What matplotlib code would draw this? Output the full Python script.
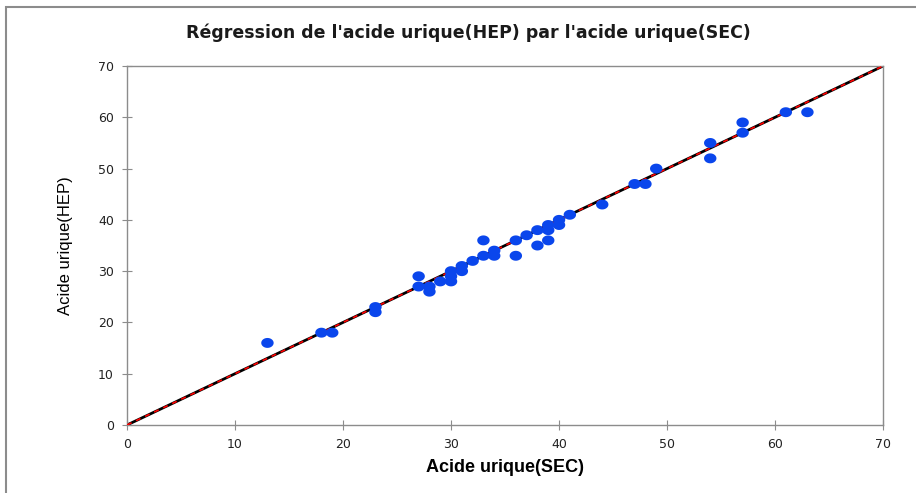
import matplotlib
matplotlib.use("Agg")
import matplotlib.pyplot as plt
import numpy as np
from matplotlib.patches import Rectangle
from matplotlib.path import Path

# valeurs
sec = [13, 18, 19, 23, 23, 27, 27, 28, 28, 29, 30, 30, 30, 31, 31, 32,
       33, 33, 34, 34, 36, 36, 37, 38, 38, 39, 39, 39, 40, 40, 41, 44,
       47, 48, 49, 54, 54, 57, 57, 61, 63]
hep = [16, 18, 18, 23, 22, 29, 27, 27, 26, 28, 30, 29, 28, 31, 30, 32,
       36, 33, 34, 33, 36, 33, 37, 38, 35, 39, 38, 36, 40, 39, 41, 43,
       47, 47, 50, 55, 52, 59, 57, 61, 61]
line_x = [0, 70]
line_y = [0, 70]
ticks = list(range(0, 71, 10))

# marqueur ovale (un peu plus large que haut)
t = np.linspace(0, 2 * np.pi, 40)
oval = Path(np.column_stack([np.cos(t), 0.8 * np.sin(t)]), closed=True)

fig = plt.figure(figsize=(9.16, 4.93), dpi=100)
ax = fig.add_axes([0.1387, 0.138, 0.8253, 0.728])

ax.plot(line_x, line_y, color='black', lw=2, zorder=2)
ax.plot(line_x, line_y, color='red', lw=1.2, dashes=(3, 3), zorder=3)
ax.scatter(sec, hep, marker=oval, s=80, color='#0a46ec', edgecolors='none', zorder=4)

ax.set_xlim(0, 70)
ax.set_ylim(0, 70)
ax.set_xticks(ticks)
ax.set_yticks(ticks)
for sp in ax.spines.values():
    sp.set_color('#8c8c8c')
    sp.set_linewidth(1)
ax.tick_params(direction='inout', length=7, color='#8c8c8c', labelsize=9,
               labelcolor='#222222', pad=6)

# titre un peu décalé à gauche comme sur l'original
fig.text(468 / 916, 1 - 33 / 493,
         "Régression de l'acide urique(HEP) par l'acide urique(SEC)",
         ha='center', va='center', fontsize=12.5, fontweight='bold',
         color='#1a1a1a', fontfamily='DejaVu Sans')
ax.set_xlabel('Acide urique(SEC)', fontsize=13, fontweight='bold',
              fontfamily='Liberation Sans', labelpad=6)
ax.set_ylabel('Acide urique(HEP)', fontsize=12, fontfamily='Liberation Sans',
              labelpad=18)

# cadre extérieur du graphique
fig.patches.append(Rectangle((6 / 916, -0.05), 1.0, 1 - 7 / 493 + 0.05,
                             transform=fig.transFigure, fill=False,
                             edgecolor='#8c8c8c', lw=1.5))

fig.savefig('out.png', dpi=100)
